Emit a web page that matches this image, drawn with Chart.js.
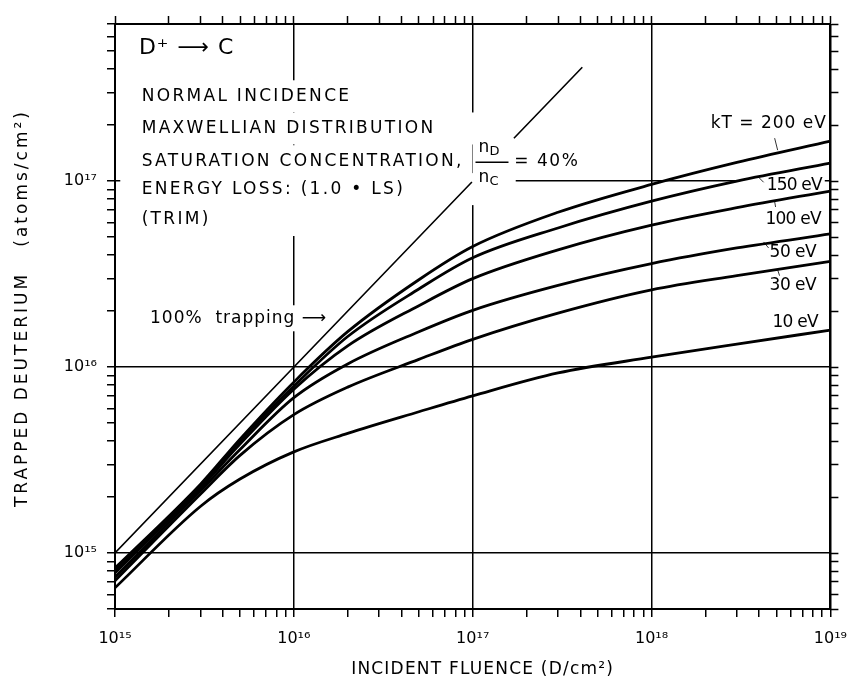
<!DOCTYPE html>
<html>
<head>
<meta charset="utf-8">
<script src="https://cdn.jsdelivr.net/npm/chart.js@4.4.1/dist/chart.umd.min.js"></script>
<style>
html,body{margin:0;padding:0;background:#fff;}
#wrap{width:859px;height:689px;}
</style>
</head>
<body>
<div id="wrap"><canvas id="c" width="859" height="689"></canvas></div>
<script>
// ---------- data ----------
const fluence = [1e15, 3e15, 5e15, 1e16, 2e16, 5e16, 1e17, 3e17, 1e18, 3e18, 1e19];
const trapped200 = [8.3e14, 2.34e15, 4.1e15, 8.3e15, 1.55e16, 2.95e16, 4.45e16, 6.8e16, 9.6e16, 1.26e17, 1.64e17];
const trapped150 = [8.0e14, 2.29e15, 4.0e15, 7.9e15, 1.46e16, 2.63e16, 3.87e16, 5.6e16, 7.8e16, 1.0e17, 1.25e17];
const trapped100 = [7.8e14, 2.24e15, 3.85e15, 7.6e15, 1.30e16, 2.14e16, 2.99e16, 4.27e16, 5.8e16, 7.2e16, 8.85e16];
const trapped50  = [7.4e14, 2.16e15, 3.6e15, 6.85e15, 1.04e16, 1.55e16, 2.02e16, 2.75e16, 3.6e16, 4.37e16, 5.2e16];
const trapped30  = [7.1e14, 2.07e15, 3.35e15, 5.55e15, 7.8e15, 1.1e16, 1.41e16, 1.95e16, 2.6e16, 3.1e16, 3.7e16];
const trapped10  = [6.5e14, 1.78e15, 2.5e15, 3.5e15, 4.4e15, 5.75e15, 7.0e15, 9.3e15, 1.13e16, 1.33e16, 1.58e16];
const seriesNames = ['kT = 200 eV', '150 eV', '100 eV', '50 eV', '30 eV', '10 eV'];
const seriesValues = [trapped200, trapped150, trapped100, trapped50, trapped30, trapped10];

// 100% trapping line (trapped = incident), interrupted where it crosses the lettering
const fullTrapFluence = [1e15, 9.9e16, 1.3e17, 1.7e17, 4.1e17];
const fullTrapValues  = [1e15, 9.9e16, null, 1.7e17, 4.1e17];

// axes
const xDecades = [15, 16, 17, 18, 19];
const xTickLabels = ['10¹⁵', '10¹⁶', '10¹⁷', '10¹⁸', '10¹⁹'];
const yDecades = [15, 16, 17];
const yTickLabels = ['10¹⁵', '10¹⁶', '10¹⁷'];
const xRange = [1e15, 1e19];
const yRange = [5e14, 7e17];

// ---------- helpers ----------
function minorTicks(lo, hi) {
  const out = [];
  for (let e = 14; e <= 19; e++) {
    for (let m = 1; m <= 9; m++) {
      const v = m * Math.pow(10, e);
      if (v >= lo * 0.999 && v <= hi * 1.001) out.push({value: v});
    }
  }
  return out;
}
function decadeOf(v) {
  const l = Math.log10(v);
  const r = Math.round(l);
  return Math.abs(l - r) < 1e-6 ? r : null;
}
function labelFor(v, decades, labels) {
  const d = decadeOf(v);
  const i = d === null ? -1 : decades.indexOf(d);
  return i >= 0 ? labels[i] : '';
}
const FONT = 'DejaVu Sans';
const gridColor = c => (c.tick && decadeOf(c.tick.value) !== null) ? '#000' : 'rgba(0,0,0,0)';

// ---------- annotations (text placed at data coordinates) ----------
const notes = [
  {text: 'D⁺ ⟶ C', x: 1.36e15, y: 5.16e17, size: 22, ls: 1, mask: false},
  {text: 'NORMAL INCIDENCE', x: 1.41e15, y: 2.86e17, ls: 2.3, maskH: 16},
  {text: 'MAXWELLIAN DISTRIBUTION', x: 1.41e15, y: 1.92e17, ls: 2.3, maskH: 16, maskTo: 1.15e17},
  {text: 'SATURATION CONCENTRATION,', x: 1.41e15, y: 1.28e17, ls: 2.3, maskH: 16},
  {text: 'ENERGY LOSS: (1.0 • LS)', x: 1.41e15, y: 9.06e16, ls: 2.3, maskH: 16, maskFrom: 1.07e15, maskTo: 1.74e17},
  {text: '(TRIM)', x: 1.41e15, y: 6.18e16, ls: 2.3, maskH: 16, maskTo: 1.1e16},
  {text: '= 40%', x: 1.71e17, y: 1.28e17, ls: 1.5, maskH: 12},
  {text: '100%  trapping ⟶', x: 1.57e15, y: 1.83e16, ls: 1, maskH: 13},
  {text: 'kT = 200 eV', x: 2.14e18, y: 2.05e17, ls: 1, mask: false, lead: [64, 15, 67, 27]},
  {text: '150 eV', x: 4.40e18, y: 9.5e16, ls: -0.8, maskH: 10, maskFrom: 3.11e18, lead: [-9, -9, -3, -3]},
  {text: '100 eV', x: 4.34e18, y: 6.18e16, ls: -0.8, maskH: 10, lead: [9, -19, 10, -13]},
  {text: '50 eV', x: 4.57e18, y: 4.11e16, ls: -0.5, maskH: 10, lead: [-6, -11, -1, -5]},
  {text: '30 eV', x: 4.57e18, y: 2.74e16, ls: -0.5, maskH: 10, lead: [8, -16, 10, -10]},
  {text: '10 eV', x: 4.75e18, y: 1.74e16, ls: -0.8, maskH: 10}
];
const fraction = {x: 1.05e17, y: 1.28e17};

const notesPlugin = {
  id: 'notes',
  beforeDatasetsDraw(chart) {
    const ctx = chart.ctx;
    const xs = chart.scales.x, ys = chart.scales.y;
    ctx.save();
    ctx.textBaseline = 'middle';
    ctx.textAlign = 'left';
    for (const n of notes) {
      ctx.font = (n.size || 17) + 'px "' + FONT + '"';
      ctx.letterSpacing = (n.ls || 0) + 'px';
      const px = xs.getPixelForValue(n.x), py = ys.getPixelForValue(n.y);
      const w = ctx.measureText(n.text).width;
      if (n.mask !== false) {
        const x0 = n.maskFrom ? xs.getPixelForValue(n.maskFrom) : px - 3;
        const x1 = n.maskTo ? xs.getPixelForValue(n.maskTo) : px + w + 3;
        const h = n.maskH || 12;
        ctx.fillStyle = '#fff';
        ctx.fillRect(x0, py - h, x1 - x0, 2 * h);
      }
      ctx.fillStyle = '#000';
      ctx.fillText(n.text, px, py);
      if (n.lead) {
        ctx.strokeStyle = '#333';
        ctx.lineWidth = 1;
        ctx.beginPath();
        ctx.moveTo(px + n.lead[0], py + n.lead[1]);
        ctx.lineTo(px + n.lead[2], py + n.lead[3]);
        ctx.stroke();
      }
    }
    // n_D / n_C fraction
    const fx = xs.getPixelForValue(fraction.x), fy = ys.getPixelForValue(fraction.y);
    ctx.letterSpacing = '0px';
    ctx.fillStyle = '#fff';
    ctx.fillRect(fx - 4, fy - 28, 40, 52);
    ctx.fillStyle = '#000';
    ctx.font = '17px "' + FONT + '"';
    ctx.fillText('n', fx + 2, fy - 14);
    ctx.fillText('n', fx + 2, fy + 16);
    ctx.font = '13px "' + FONT + '"';
    ctx.fillText('D', fx + 13, fy - 10);
    ctx.fillText('C', fx + 13, fy + 20);
    ctx.strokeStyle = '#000';
    ctx.lineWidth = 1.5;
    ctx.beginPath();
    ctx.moveTo(fx - 1, fy + 1);
    ctx.lineTo(fx + 32, fy + 1);
    ctx.stroke();
    ctx.restore();
  }
};

// letter-spaced axis titles (drawn by Chart.js, spacing applied around its drawTitle)
const titleSpacingPlugin = {
  id: 'titleSpacing',
  beforeDraw(chart) {
    const spacing = {x: '1.2px', y: '3px'};
    for (const id of ['x', 'y']) {
      const s = chart.scales[id];
      if (s && !s._spaced) {
        const orig = s.drawTitle.bind(s);
        s.drawTitle = function () {
          const c = this.ctx;
          const prev = c.letterSpacing;
          c.letterSpacing = spacing[id];
          orig();
          c.letterSpacing = prev;
        };
        s._spaced = true;
      }
    }
  }
};

// ---------- chart ----------
const datasets = seriesValues.map((vals, i) => ({
  label: seriesNames[i],
  data: fluence.map((f, j) => ({x: f, y: vals[j]})),
  borderColor: '#000',
  borderWidth: 2.8,
  pointRadius: 0,
  fill: false,
  cubicInterpolationMode: 'monotone',
  xAxisID: 'x',
  yAxisID: 'y'
}));
datasets.push({
  label: '100% trapping',
  data: fullTrapFluence.map((f, j) => ({x: f, y: fullTrapValues[j]})),
  borderColor: '#000',
  borderWidth: 1.6,
  pointRadius: 0,
  fill: false,
  spanGaps: false,
  tension: 0,
  xAxisID: 'x',
  yAxisID: 'y'
});

const tickFont = {family: FONT, size: 16};
const axisBase = {
  type: 'logarithmic',
  border: {color: '#000', width: 2},
};

new Chart(document.getElementById('c'), {
  type: 'line',
  data: {datasets},
  plugins: [notesPlugin, titleSpacingPlugin],
  options: {
    responsive: false,
    devicePixelRatio: 1,
    animation: false,
    layout: {padding: 0},
    plugins: {legend: {display: false}, tooltip: {enabled: false}},
    scales: {
      x: Object.assign({}, axisBase, {
        axis: 'x', position: 'bottom', min: xRange[0], max: xRange[1],
        afterBuildTicks: s => { s.ticks = minorTicks(xRange[0], xRange[1]); },
        afterFit: s => { s.height = 80; },
        grid: {color: gridColor, lineWidth: 1.5, tickColor: '#000', tickWidth: 1.5, tickLength: 8},
        ticks: {autoSkip: false, maxRotation: 0, minRotation: 0, padding: 12, color: '#000', font: tickFont,
                callback: v => labelFor(v, xDecades, xTickLabels)},
        title: {display: true, text: '   INCIDENT FLUENCE (D/cm²)', color: '#000',
                font: {family: FONT, size: 17}, padding: {top: 0, bottom: 9}}
      }),
      x2: Object.assign({}, axisBase, {
        axis: 'x', position: 'top', min: xRange[0], max: xRange[1],
        afterBuildTicks: s => { s.ticks = minorTicks(xRange[0], xRange[1]); },
        afterFit: s => { s.height = 24; },
        grid: {drawOnChartArea: false, tickColor: '#000', tickWidth: 1.5, tickLength: 8},
        ticks: {autoSkip: false, maxRotation: 0, minRotation: 0, padding: 0, font: {size: 1}, callback: () => ''}
      }),
      y: Object.assign({}, axisBase, {
        axis: 'y', position: 'left', min: yRange[0], max: yRange[1],
        afterBuildTicks: s => { s.ticks = minorTicks(yRange[0], yRange[1]); },
        afterFit: s => { s.width = 115; },
        grid: {color: gridColor, lineWidth: 1.5, tickColor: '#000', tickWidth: 1.5, tickLength: 8},
        ticks: {autoSkip: false, padding: 10, color: '#000', font: tickFont,
                callback: v => labelFor(v, yDecades, yTickLabels)},
        title: {display: true, text: '  TRAPPED DEUTERIUM   (atoms/cm²)', color: '#000',
                font: {family: FONT, size: 17}, padding: {top: 12, bottom: 0}}
      }),
      y2: Object.assign({}, axisBase, {
        axis: 'y', position: 'right', min: yRange[0], max: yRange[1],
        afterBuildTicks: s => { s.ticks = minorTicks(yRange[0], yRange[1]); },
        afterFit: s => { s.width = 26; },
        grid: {drawOnChartArea: false, tickColor: '#000', tickWidth: 1.5, tickLength: 8},
        ticks: {autoSkip: false, padding: 0, font: {size: 1}, callback: () => ''}
      })
    }
  }
});
</script>
</body>
</html>
